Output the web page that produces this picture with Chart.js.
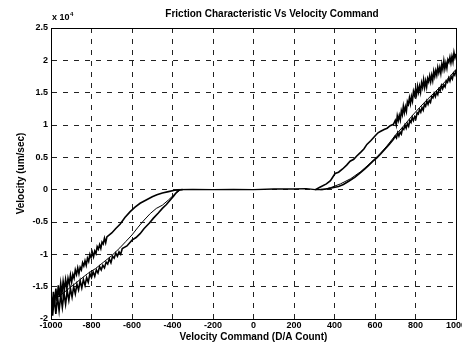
<!DOCTYPE html>
<html>
<head>
<meta charset="utf-8">
<script src="https://cdn.jsdelivr.net/npm/chart.js@4.4.1/dist/chart.umd.min.js"></script>
<style>
body { margin: 0; background: #fff; }
</style>
</head>
<body>
<canvas id="frictionChart" width="462" height="345"></canvas>
<script>
// axis ticks
const xTicks = [-1000, -800, -600, -400, -200, 0, 200, 400, 600, 800, 1000];
const yTicks = [-2, -1.5, -1, -0.5, 0, 0.5, 1, 1.5, 2, 2.5];

// flat dead zone around zero command
const zeroX = [-380, -300, -200, -100, 0, 100, 200, 260, 305, 330];
const zeroY = [0, 0.005, 0, 0.005, 0, 0.01, 0.01, 0.015, 0, 0];

// right side, upper branch
const rightUpX = [305, 330, 360, 380, 403, 420, 440, 460, 477, 495, 510, 530, 545, 560, 580, 600, 615, 626, 645, 660, 675, 691,
    700, 705, 710, 715, 720, 725, 730, 735, 740, 745, 750, 755, 760, 765, 770, 775, 780, 785, 790, 795,
    800, 805, 810, 815, 820, 825, 830, 835, 840, 845, 850, 855, 860, 865, 870, 875, 880, 885, 890, 895,
    900, 905, 910, 915, 920, 925, 930, 935, 940, 945, 950, 955, 960, 965, 970, 975, 980, 985, 990, 995, 1000];
const rightUpY = [0, 0.04, 0.09, 0.14, 0.25, 0.27, 0.32, 0.38, 0.44, 0.47, 0.52, 0.58, 0.63, 0.70, 0.76, 0.83, 0.88, 0.90, 0.93, 0.95, 0.99, 1.01,
    1.07, 1.00, 1.14, 1.07, 1.15, 1.08, 1.22, 1.16, 1.29, 1.19, 1.28, 1.21, 1.36, 1.32, 1.42, 1.33, 1.44, 1.37, 1.52, 1.46,
    1.55, 1.47, 1.60, 1.51, 1.60, 1.51, 1.65, 1.58, 1.70, 1.58, 1.68, 1.59, 1.72, 1.67, 1.76, 1.67, 1.77, 1.69, 1.83, 1.75,
    1.84, 1.77, 1.89, 1.81, 1.89, 1.80, 1.94, 1.86, 1.99, 1.87, 1.96, 1.88, 2.01, 1.97, 2.05, 1.96, 2.06, 1.98, 2.12, 2.04, 2.10];

// right side, lower branches
const rightLowX = [330, 360, 390, 420, 444, 470, 500, 527, 550, 570, 590, 609, 630, 650, 670, 691,
    700, 706, 712, 718, 724, 730, 736, 742, 748, 754, 760, 766, 772, 778, 784, 790, 796,
    802, 808, 814, 820, 826, 832, 838, 844, 850, 856, 862, 868, 874, 880, 886, 892, 898,
    904, 910, 916, 922, 928, 934, 940, 946, 952, 958, 964, 970, 976, 982, 988, 994, 1000];
const rightLowY = [0, 0.01, 0.03, 0.05, 0.08, 0.13, 0.19, 0.26, 0.32, 0.38, 0.44, 0.49, 0.56, 0.63, 0.70, 0.78,
    0.83, 0.80, 0.88, 0.83, 0.89, 0.86, 0.95, 0.93, 1.00, 0.95, 1.02, 0.98, 1.07, 1.04, 1.12, 1.07, 1.13,
    1.10, 1.19, 1.17, 1.24, 1.20, 1.27, 1.23, 1.32, 1.29, 1.37, 1.32, 1.38, 1.35, 1.44, 1.42, 1.49, 1.44,
    1.51, 1.47, 1.56, 1.53, 1.61, 1.56, 1.62, 1.59, 1.68, 1.66, 1.73, 1.68, 1.75, 1.71, 1.80, 1.77, 1.85];
const rightMidX = [340, 380, 430, 480, 530, 580, 620, 660, 700, 740, 780, 820, 860, 900, 940, 970, 1000];
const rightMidY = [0, 0.03, 0.09, 0.17, 0.28, 0.42, 0.54, 0.68, 0.84, 0.98, 1.13, 1.27, 1.40, 1.52, 1.65, 1.75, 1.86];

// left side, upper branch
const leftUpX = [-350, -370, -390, -420, -450, -477, -500, -530, -560, -585, -609, -635, -658, -680, -700,
    -724, -730, -736, -742, -748, -754, -760, -766, -772, -778, -784, -790, -796, -802, -808, -814,
    -820, -826, -832, -838, -844, -850, -856, -862, -868, -874, -880, -886, -892, -898, -904, -910,
    -916, -922, -928, -934, -940, -946, -952, -958, -964, -970, -976, -982, -988, -994, -1000];
const leftUpY = [0, -0.005, -0.01, -0.03, -0.05, -0.08, -0.11, -0.16, -0.21, -0.27, -0.34, -0.43, -0.53, -0.60, -0.67,
    -0.73, -0.82, -0.75, -0.84, -0.81, -0.91, -0.85, -0.92, -0.88, -0.99, -0.95, -1.04, -0.97, -1.05, -1.00, -1.11,
    -1.06, -1.17, -1.10, -1.18, -1.13, -1.24, -1.20, -1.30, -1.21, -1.31, -1.24, -1.37, -1.31, -1.43, -1.32, -1.46,
    -1.37, -1.52, -1.39, -1.55, -1.42, -1.61, -1.45, -1.66, -1.48, -1.72, -1.53, -1.78, -1.58, -1.84, -1.60];

// left side, lower branches
const leftLowX = [-364, -380, -395, -411, -430, -450, -470, -494, -515, -540, -560, -580, -600, -625,
    -648, -656, -664, -672, -680, -688, -696, -704, -712, -720, -728, -736, -744, -752, -760, -768,
    -776, -784, -792, -800, -808, -816, -824, -832, -840, -848, -856, -864, -872, -880, -888, -896,
    -904, -912, -920, -928, -936, -944, -952, -960, -968, -976, -984, -992, -1000];
const leftLowY = [0, -0.04, -0.10, -0.16, -0.23, -0.29, -0.36, -0.44, -0.52, -0.60, -0.68, -0.74, -0.78, -0.87,
    -0.91, -1.00, -0.96, -1.03, -0.98, -1.06, -1.03, -1.13, -1.07, -1.15, -1.12, -1.21, -1.17, -1.24, -1.19, -1.29,
    -1.24, -1.34, -1.27, -1.36, -1.30, -1.43, -1.36, -1.48, -1.39, -1.52, -1.41, -1.55, -1.46, -1.61, -1.50, -1.66,
    -1.53, -1.71, -1.56, -1.77, -1.60, -1.82, -1.63, -1.87, -1.65, -1.92, -1.67, -1.95, -1.70];
const leftMidX = [-360, -390, -420, -450, -480, -510, -540, -570, -600, -630, -660, -700, -740, -780, -820, -860, -900, -940, -970, -1000];
const leftMidY = [0, -0.07, -0.16, -0.24, -0.29, -0.37, -0.47, -0.58, -0.70, -0.80, -0.90, -1.02, -1.12, -1.22, -1.30, -1.40, -1.50, -1.60, -1.67, -1.75];

function toPoints(xs, ys) {
    return xs.map((x, i) => ({ x: x, y: ys[i] }));
}

function trace(xs, ys, width) {
    return {
        data: toPoints(xs, ys),
        showLine: true,
        borderColor: '#000',
        borderWidth: width,
        pointRadius: 0,
        tension: 0,
        fill: false,
    };
}

const tickFont = { family: 'Liberation Sans', size: 9, weight: 'bold' };

// box around plot + title + exponent
const decorations = {
    id: 'decorations',
    afterDraw(chart) {
        const ctx = chart.ctx;
        const a = chart.chartArea;
        ctx.save();
        ctx.strokeStyle = '#000';
        ctx.lineWidth = 1;
        ctx.strokeRect(Math.round(a.left) + 0.5, Math.round(a.top) + 0.5, Math.round(a.right - a.left), Math.round(a.bottom - a.top));
        ctx.fillStyle = '#000';
        ctx.textBaseline = 'middle';
        ctx.textAlign = 'center';
        ctx.font = 'bold 10px "Liberation Sans"';
        ctx.fillText('Friction Characteristic Vs Velocity Command', 272, 14);
        ctx.textAlign = 'left';
        ctx.font = 'bold 9px "Liberation Sans"';
        ctx.fillText('x 10', 52, 18);
        ctx.font = 'bold 6px "Liberation Sans"';
        ctx.fillText('4', 70, 14);
        ctx.restore();
    }
};

const ctx = document.getElementById('frictionChart').getContext('2d');
const chart = new Chart(ctx, {
    type: 'scatter',
    data: {
        datasets: [
            trace(zeroX, zeroY, 1.3),
            trace(rightUpX, rightUpY, 1.6),
            trace(rightLowX, rightLowY, 1.6),
            trace(rightMidX, rightMidY, 1),
            trace(leftUpX, leftUpY, 1.6),
            trace(leftLowX, leftLowY, 1.6),
            trace(leftMidX, leftMidY, 1),
        ],
    },
    options: {
        responsive: false,
        animation: false,
        layout: { padding: { top: 28, right: 6, left: 0, bottom: 0 } },
        plugins: {
            legend: { display: false },
            tooltip: { enabled: false },
        },
        scales: {
            x: {
                type: 'linear',
                min: -1000,
                max: 1000,
                afterBuildTicks: scale => { scale.ticks = xTicks.map(v => ({ value: v })); },
                afterFit: scale => { scale.height = 26; scale.paddingLeft = 0; scale.paddingRight = 0; },
                ticks: { color: '#000', font: tickFont, padding: 1, maxRotation: 0, autoSkip: false, callback: v => String(v) },
                grid: { color: '#222', lineWidth: 1, drawTicks: false },
                border: { display: true, color: '#000', dash: [5, 6] },
                title: {
                    display: true,
                    text: 'Velocity Command (D/A Count)',
                    color: '#000',
                    font: { family: 'Liberation Sans', size: 10, weight: 'bold' },
                    padding: { top: 0, bottom: 2 },
                },
            },
            y: {
                type: 'linear',
                min: -2,
                max: 2.5,
                afterBuildTicks: scale => { scale.ticks = yTicks.map(v => ({ value: v })); },
                afterFit: scale => { scale.width = 51; scale.paddingTop = 0; scale.paddingBottom = 0; },
                ticks: { color: '#000', font: tickFont, padding: 3, autoSkip: false, callback: v => String(v) },
                grid: { color: '#222', lineWidth: 1, drawTicks: false },
                border: { display: true, color: '#000', dash: [5, 6] },
                title: {
                    display: true,
                    text: 'Velocity (um/sec)',
                    color: '#000',
                    font: { family: 'Liberation Sans', size: 10, weight: 'bold' },
                    padding: { top: 15, bottom: 0 },
                },
            },
        },
    },
    plugins: [decorations],
});
</script>
</body>
</html>
